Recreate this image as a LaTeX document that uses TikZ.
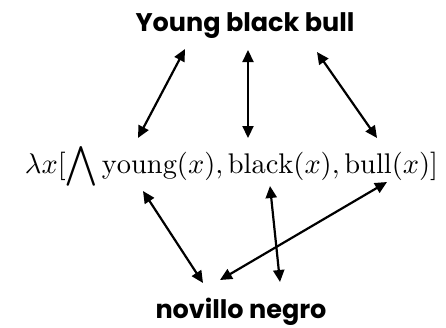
\documentclass[tikz,border=0pt]{standalone}
\usepackage{fontspec}
\usepackage{amsmath}
\newfontfamily\labelfont{Poppins}
\usetikzlibrary{arrows.meta}
\begin{document}
\begin{tikzpicture}[x=1pt,y=-1pt,
  lbl/.style={font=\labelfont\bfseries\fontsize{25.5}{28}\selectfont, inner sep=0pt},
  link/.style={line width=2.2pt, {Triangle[length=12pt,width=11pt]}-{Triangle[length=12pt,width=11pt]}}]
\useasboundingbox (0,0) rectangle (446,327);
\node[lbl, anchor=base] (eng) at (245,31) {Young black bull};
\node[inner sep=0pt, anchor=base] (form) at (231.5,173) {\resizebox{413pt}{!}{$\displaystyle\lambda x[\bigwedge \mathrm{young}(x), \mathrm{black}(x), \mathrm{bull}(x)]$}};
\node[lbl, anchor=base] (esp) at (241,318) {novillo negro};
\coordinate (e1) at (185,49);
\coordinate (e2) at (248,50);
\coordinate (e3) at (317,52);
\coordinate (f1) at (138,138);
\coordinate (f2) at (248,138);
\coordinate (f3) at (377,138);
\coordinate (g1) at (143,191);
\coordinate (g2) at (270,186);
\coordinate (g3) at (387,182);
\coordinate (s1) at (203,283);
\coordinate (s2) at (280,282);
\coordinate (s3) at (220,280);
\draw[link] (e1) -- (f1);
\draw[link] (e2) -- (f2);
\draw[link] (e3) -- (f3);
\draw[link] (g1) -- (s1);
\draw[link] (g2) -- (s2);
\draw[link] (g3) -- (s3);
\end{tikzpicture}
\end{document}
